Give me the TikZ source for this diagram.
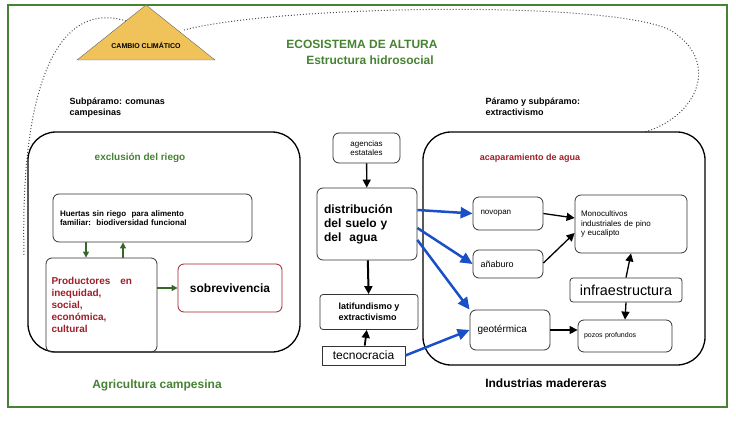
\documentclass[tikz,border=0pt]{standalone}
\usepackage{fontspec}
\setmainfont{Liberation Sans}
\usetikzlibrary{arrows.meta}
\definecolor{frame}{RGB}{70,130,50}
\definecolor{dred}{RGB}{160,30,40}
\definecolor{tri}{RGB}{240,195,90}
\definecolor{blu}{RGB}{25,80,200}
\tikzset{
  box/.style={draw=black!80, line width=0.8pt, rounded corners=6pt, align=left, font=\small},
  big/.style={draw, line width=1.3pt, rounded corners=28pt},
  blk/.style={-{Triangle[length=8pt,width=8pt]}, line width=1.3pt},
  blue arr/.style={-{Triangle[length=12pt,width=11pt]}, line width=2.5pt, blu},
  grn/.style={-{Triangle[length=6pt,width=6pt]}, line width=1.2pt, frame!80!black},
}
\begin{document}
\begin{tikzpicture}[x=1pt, y=-1pt, font=\bfseries]
\useasboundingbox (0,0) rectangle (736,422);
% outer frame
\draw[frame, line width=1.8pt] (8,5) rectangle (727,407);
% climate change
\draw[black!60, fill=tri] (146,5) coordinate (ctop) -- (215,60) -- (77,60) -- cycle;
\node[font=\bfseries\fontsize{7}{8}\selectfont] (cclabel) at (146,45) {CAMBIO CLIMÁTICO};
\coordinate (dl) at (126,21);
\coordinate (dr) at (184,30);
\coordinate (dend) at (645,132);
\coordinate (dleft) at (24,255);
\draw[dotted, line width=1pt, black!70] (dl) .. controls (60,0) and (20,80) .. (dleft);
\draw[dotted, line width=1pt, black!70] (dr) .. controls (280,5) and (610,0) .. (670,30)
   .. controls (720,60) and (700,115) .. (dend);
% titles
\node[frame, font=\bfseries\large] (eco) at (362,44) {ECOSISTEMA DE ALTURA};
\node[frame, font=\bfseries\large] (est) at (370,60) {Estructura hidrosocial};
\node[align=left, font=\bfseries\small, anchor=north west] (sub) at (66,94) {Subpáramo: comunas\\campesinas};
\node[align=left, font=\bfseries\small, anchor=north west] (par) at (482,94) {Páramo y subpáramo:\\extractivismo};
% left block
\draw[big] (28,132) rectangle (300,352);
\node[frame, font=\bfseries\normalsize] (excl) at (140,158) {exclusión del riego};
\node[box, font=\bfseries\footnotesize, minimum width=199pt, minimum height=48pt, text width=185pt] (huertas) at (152.5,218) {Huertas sin riego\ \ para alimento\\familiar:\ \ biodiversidad funcional};
\node[box, text=dred, font=\bfseries\normalsize, minimum width=111pt, minimum height=94pt, text width=100pt] (prod) at (101.5,305) {Productores\ \ \ en\\inequidad,\\social,\\económica,\\cultural};
\node[box, draw=dred, minimum width=104pt, minimum height=48pt, font=\bfseries\large, align=center] (sobre) at (230,288) {sobrevivencia};
\draw[grn] (huertas.south -| 86,0) -- (prod.north -| 86,0);
\draw[grn] (prod.north -| 123,0) -- (huertas.south -| 123,0);
\draw[grn] (prod.east |- sobre) -- (sobre.west);
\node[frame, font=\bfseries\large] (agri) at (157,385) {Agricultura campesina};
% middle column
\node[box, font=\footnotesize\mdseries, minimum width=67pt, minimum height=30pt] (agen) at (366.5,148) {agencias\\estatales};
\node[box, font=\bfseries\large, minimum width=100pt, minimum height=72pt, text width=86pt] (dist) at (367,224) {distribución\\del suelo y\\del\ \ agua};
\node[box, font=\bfseries\small, minimum width=98pt, minimum height=35pt, rounded corners=3pt] (lati) at (369,312) {latifundismo y\\extractivismo};
\node[draw=black!80, line width=0.8pt, font=\mdseries\large, minimum width=83pt, minimum height=19pt, inner sep=1pt] (tecno) at (363.5,355.5) {tecnocracia};
\draw[blk] (agen) -- (dist);
\draw[blk, line width=2pt] (dist) -- (lati);
\draw[blk, line width=1.8pt] (tecno) -- (lati);
% right block
\draw[big] (423,132) rectangle (705,365);
\node[dred, font=\bfseries\small] (acap) at (530,158) {acaparamiento de agua};
\node[box, font=\footnotesize\mdseries, minimum width=70pt, minimum height=33pt, text width=55pt] (novo) at (508,213.5) {novopan};
\node[box, font=\small\mdseries, minimum width=70pt, minimum height=28pt, text width=55pt] (ana) at (508,264) {añaburo};
\node[box, font=\normalsize\mdseries, minimum width=80pt, minimum height=40pt, text width=65pt] (geo) at (510,330) {geotérmica};
\node[box, font=\footnotesize\mdseries, minimum width=112pt, minimum height=58pt, text width=100pt] (mono) at (631,224) {Monocultivos\\industriales de pino\\y eucalipto};
\node[box, font=\mdseries\Large, minimum width=112pt, minimum height=24pt, align=center, rounded corners=3pt] (infra) at (626,290) {infraestructura};
\node[box, font=\scriptsize\mdseries, minimum width=94pt, minimum height=32pt, text width=82pt] (pozos) at (625,336) {pozos profundos};
\draw[blue arr] (dist.east |- 0,210) -- (novo.west);
\draw[blue arr] (dist.east |- 0,228) -- (ana.west);
\draw[blue arr] (dist.east |- 0,240) -- (geo.north west);
\draw[blue arr] (tecno.east) -- (geo.west);
\draw[blk] (novo.east) -- (mono.west |- 0,218);
\draw[blk] (ana.east |- 0,263) -- (mono.west |- 0,233);
\draw[blk] (geo.east) -- (pozos.west |- geo.east);
\draw[blk] (infra.north) -- (mono.south);
\draw[blk] (infra.south) -- (pozos.north);
\node[font=\bfseries\large] (ind) at (546,383) {Industrias madereras};
\end{tikzpicture}
\end{document}
